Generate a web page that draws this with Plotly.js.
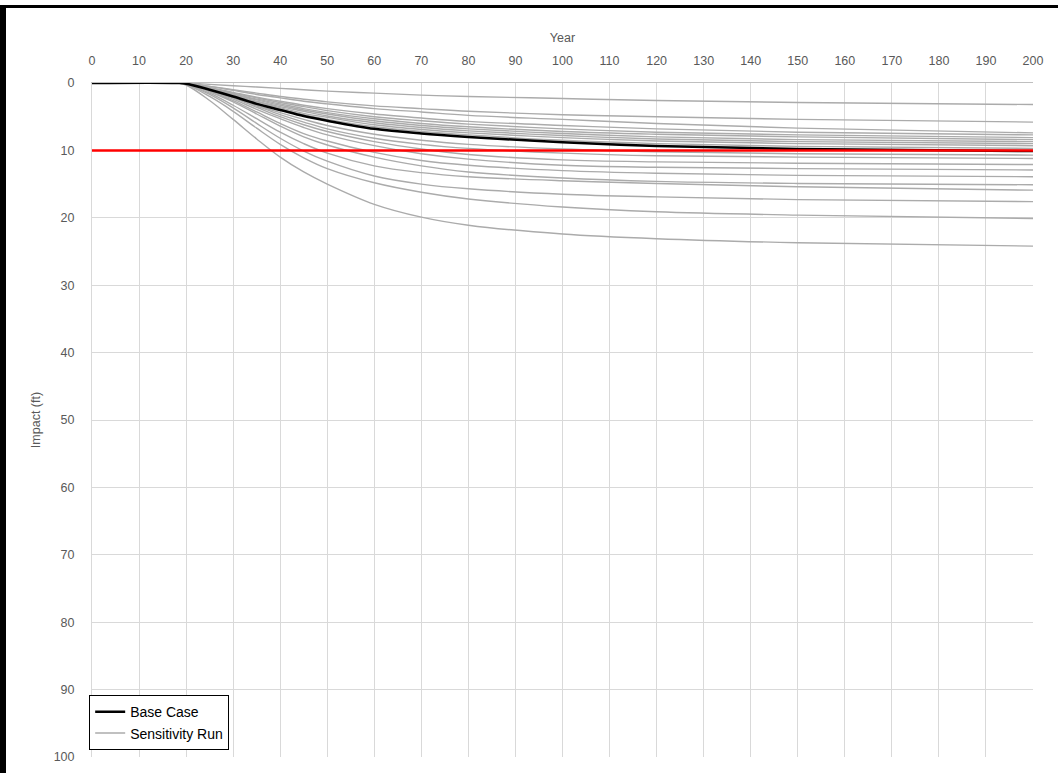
<!DOCTYPE html>
<html>
<head>
<meta charset="utf-8">
<script src="https://cdn.plot.ly/plotly-3.0.1.min.js"></script>
<style>
  html, body { margin: 0; padding: 0; background: #fff; }
  #wrap { position: relative; width: 1058px; height: 773px; overflow: hidden; }
  #chart { position: absolute; left: 0; top: 0; width: 1058px; height: 773px; }
  #bTop { position: absolute; left: 0; top: 5px; width: 1058px; height: 3px; background: #000; }
  #bLeft { position: absolute; left: 0; top: 5px; width: 6px; height: 768px; background: #000; }
</style>
</head>
<body>
<div id="wrap">
  <div id="chart"></div>
  <div id="bTop"></div>
  <div id="bLeft"></div>
</div>
<script>
// Years (x values shared by all series)
const years = [0, 18, 20, 25, 30, 35, 40, 45, 50, 60, 70, 80, 100, 120, 150, 200];

// Base case
const baseCase = [0, 0, 0.1, 1.0, 2.0, 3.1, 4.0, 4.9, 5.6, 6.8, 7.5, 8.0, 8.8, 9.35, 9.8, 10.1];

// Sensitivity runs
const run01 = [0, 0, 0.3, 2.6, 5.4, 8.3, 11.0, 13.2, 15.0, 18.0, 19.9, 21.1, 22.4, 23.1, 23.7, 24.2];
const run02 = [0, 0, 0.2, 2.0, 4.2, 6.7, 9.1, 11.1, 12.7, 14.8, 16.2, 17.2, 18.4, 19.1, 19.6, 20.1];
const run03 = [0, 0, 0.2, 1.7, 3.7, 6.0, 8.2, 10.1, 11.6, 13.8, 15.0, 15.7, 16.5, 16.9, 17.3, 17.6];
const run04 = [0, 0, 0.2, 1.5, 3.3, 5.3, 7.3, 9.0, 10.4, 12.3, 13.3, 13.9, 14.5, 14.9, 15.4, 15.9];
const run05 = [0, 0, 0.1, 1.3, 2.8, 4.6, 6.4, 8.0, 9.2, 11.0, 12.3, 13.2, 14.1, 14.6, 14.9, 15.1];
const run06 = [0, 0, 0.1, 1.2, 2.6, 4.3, 6.0, 7.5, 8.6, 10.3, 11.5, 12.2, 13.0, 13.4, 13.7, 13.9];
const run07 = [0, 0, 0.1, 1.1, 2.4, 3.9, 5.3, 6.6, 7.7, 9.3, 10.5, 11.3, 12.2, 12.5, 12.7, 12.9];
const run08 = [0, 0, 0.1, 1.0, 2.2, 3.6, 5.0, 6.2, 7.2, 8.7, 9.8, 10.6, 11.4, 11.7, 11.9, 12.1];
const run09 = [0, 0, 0.1, 1.0, 2.1, 3.4, 4.7, 5.8, 6.8, 8.2, 9.1, 9.7, 10.4, 10.8, 11.0, 11.2];
const run10 = [0, 0, 0.1, 1.0, 2.1, 3.3, 4.4, 5.4, 6.3, 7.6, 8.5, 9.1, 9.8, 10.2, 10.5, 10.7];
const run11 = [0, 0, 0.1, 1.0, 2.0, 3.0, 3.9, 4.7, 5.4, 6.5, 7.2, 7.7, 8.5, 9.0, 9.4, 9.7];
const run12 = [0, 0, 0.1, 0.9, 1.9, 2.8, 3.7, 4.5, 5.1, 6.2, 6.9, 7.4, 8.1, 8.6, 9.0, 9.3];
const run13 = [0, 0, 0.1, 0.9, 1.8, 2.7, 3.5, 4.2, 4.9, 5.9, 6.6, 7.1, 7.8, 8.3, 8.7, 9.0];
const run14 = [0, 0, 0.1, 0.8, 1.7, 2.5, 3.3, 4.0, 4.6, 5.6, 6.3, 6.8, 7.5, 8.0, 8.4, 8.7];
const run15 = [0, 0, 0.1, 0.8, 1.6, 2.4, 3.1, 3.8, 4.4, 5.3, 6.0, 6.5, 7.2, 7.6, 8.0, 8.4];
const run16 = [0, 0, 0.1, 0.7, 1.5, 2.2, 2.9, 3.5, 4.1, 5.0, 5.6, 6.1, 6.8, 7.3, 7.7, 8.1];
const run17 = [0, 0, 0.1, 0.7, 1.4, 2.1, 2.7, 3.3, 3.8, 4.6, 5.2, 5.7, 6.3, 6.8, 7.3, 7.7];
const run18 = [0, 0, 0.05, 0.5, 1.1, 1.7, 2.2, 2.7, 3.1, 3.8, 4.3, 4.8, 5.4, 6.0, 6.7, 7.4];
const run19 = [0, 0, 0.05, 0.5, 1.0, 1.5, 2.0, 2.4, 2.8, 3.4, 3.8, 4.2, 4.7, 5.0, 5.4, 5.8];
const run20 = [0, 0, 0, 0.2, 0.4, 0.6, 0.8, 1.0, 1.2, 1.5, 1.8, 2.0, 2.3, 2.6, 2.9, 3.2];

// Threshold line
const thresholdYears = [0, 200];
const thresholdValues = [10, 10];

// Tick labels
const xTicks = [0,10,20,30,40,50,60,70,80,90,100,110,120,130,140,150,160,170,180,190,200];
const yTicks = [0,10,20,30,40,50,60,70,80,90,100];

const runs = [run01, run02, run03, run04, run05, run06, run07, run08, run09, run10,
              run11, run12, run13, run14, run15, run16, run17, run18, run19, run20];

const traces = [];
runs.forEach((r, i) => {
  traces.push({
    x: years, y: r, type: 'scatter', mode: 'lines',
    name: 'Sensitivity Run', legendgroup: 'sens', showlegend: i === 0,
    line: {color: '#ababab', width: 1.4, shape: 'spline', smoothing: 1},
    hoverinfo: 'skip'
  });
});
traces.push({
  x: years, y: baseCase, type: 'scatter', mode: 'lines', name: 'Base Case',
  line: {color: '#000000', width: 2.5, shape: 'spline', smoothing: 1}
});
traces.push({
  x: thresholdYears, y: thresholdValues, type: 'scatter', mode: 'lines',
  name: 'Threshold', showlegend: false,
  line: {color: '#ff0000', width: 2.5}
});

const layout = {
  width: 1058, height: 773,
  margin: {l: 92, r: 25, t: 83, b: 16},
  paper_bgcolor: '#ffffff', plot_bgcolor: '#ffffff',
  font: {family: 'Liberation Sans, Arial, sans-serif', size: 12, color: '#595959'},
  showlegend: true,
  legend: {
    x: -0.003, y: 0.01, xanchor: 'left', yanchor: 'bottom',
    bgcolor: '#ffffff', bordercolor: '#000000', borderwidth: 1,
    font: {size: 14, color: '#000000'},
    traceorder: 'reversed', tracegroupgap: 0
  },
  xaxis: {
    side: 'top', range: [0, 200], tickvals: xTicks, ticktext: xTicks.map(String),
    showgrid: true, gridcolor: '#d9d9d9', gridwidth: 1,
    zeroline: false, showline: true, linecolor: '#bfbfbf', linewidth: 1,
    ticks: '', ticklabelstandoff: 12,
    tickfont: {size: 12.5, color: '#595959'},
    title: {text: 'Year', font: {size: 12.5, color: '#595959'}, standoff: 8}
  },
  yaxis: {
    autorange: false, range: [100, 0], tickvals: yTicks, ticktext: yTicks.map(String),
    showgrid: true, gridcolor: '#d9d9d9', gridwidth: 1,
    zeroline: false, showline: true, linecolor: '#d9d9d9', linewidth: 1,
    ticks: '', ticklabelstandoff: 14,
    tickfont: {size: 12.5, color: '#595959'},
    title: {text: 'Impact (ft)', font: {size: 12.5, color: '#595959'}, standoff: 10}
  }
};

Plotly.newPlot('chart', traces, layout, {displayModeBar: false, staticPlot: true});
</script>
</body>
</html>
